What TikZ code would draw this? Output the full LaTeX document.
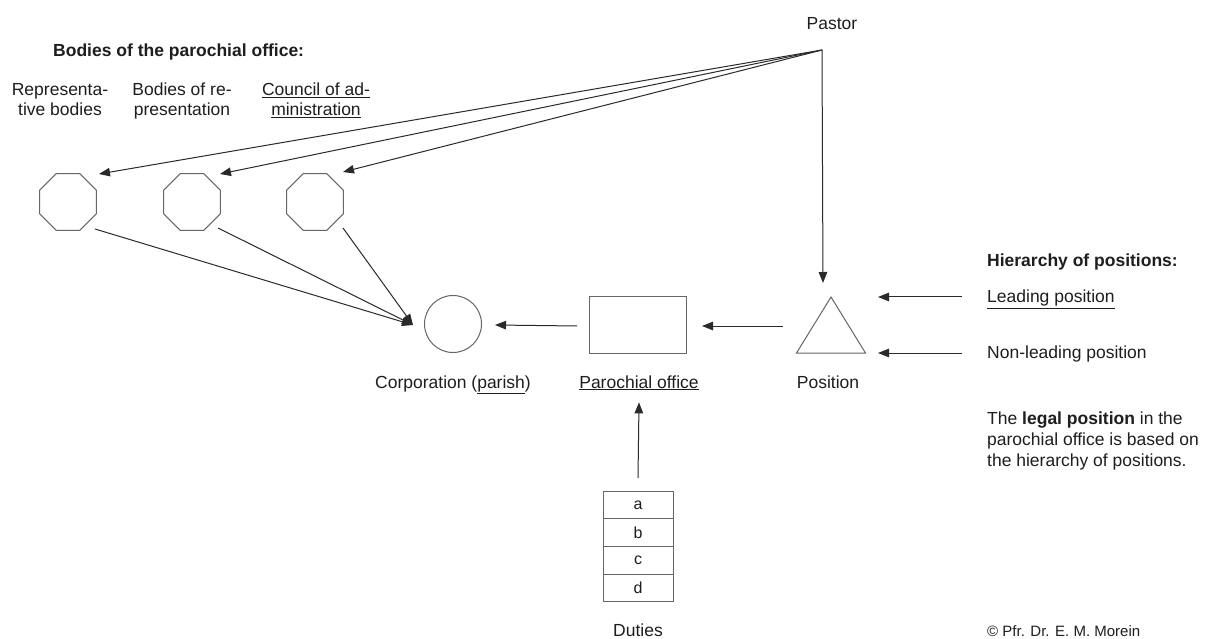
\documentclass[tikz,border=0pt]{standalone}
\usepackage{fontspec}
\setmainfont{Liberation Sans}
\usetikzlibrary{shapes.geometric,arrows.meta,calc}
\definecolor{ln}{HTML}{2a2a2a}
\definecolor{sh}{HTML}{666666}
\definecolor{tx}{HTML}{1e1e1e}
\begin{document}
\begin{tikzpicture}[x=1pt,y=-1pt,
  every node/.style={text=tx, font=\fontsize{17.5}{20}\selectfont, inner sep=0},
  oct/.style={draw=sh, line width=1pt, regular polygon, regular polygon sides=8, minimum size=61.5pt},
  shp/.style={draw=sh, line width=1pt},
  arr/.style={draw=ln, line width=1pt, -{Triangle[length=11pt,width=8.5pt]}},
  duty/.style={draw=sh, line width=1pt, minimum width=70pt, minimum height=27.75pt, outer sep=0, font=\fontsize{16}{19}\selectfont},
  hdr/.style={font=\fontsize{17.5}{20}\selectfont\bfseries}
]
\useasboundingbox (0,0) rectangle (1211,639);
\fill[white] (0,0) rectangle (1211,639);

% texts
\node[anchor=base] (pastor) at (832,30) {Pastor};
\coordinate (P) at (822,50);
\node[hdr, anchor=base west] (bodies) at (53,57) {Bodies of the parochial office:};
\node[anchor=north, align=center] (rep) at (60,83) {Representa-\\tive bodies};
\node[anchor=north, align=center] (bor) at (182,83) {Bodies of re-\\presentation};
\node[anchor=north, align=center] (coa) at (316,83) {\underline{Council of ad-}\\\underline{ministration}};

% octagons
\node[oct] (o1) at (68,202) {};
\node[oct] (o2) at (192,202) {};
\node[oct] (o3) at (315,202) {};

% main shapes
\node[circle, shp, minimum size=57pt] (corp) at (453,324) {};
\node[shp, minimum width=97pt, minimum height=56pt] (off) at (638,325) {};
\coordinate (pos) at (831,325);
\draw[shp, line join=miter] ($(pos)+(-34.5,28)$) -- ($(pos)+(0,-28)$) -- ($(pos)+(34.5,28)$) -- cycle;

\node[anchor=base] (corpl) at (453,388) {Corporation (\underline{parish})};
\node[anchor=base] (offl) at (639,388) {\underline{Parochial office}};
\node[anchor=base] (posl) at (828,388) {Position};

% hierarchy
\node[hdr, anchor=base west] (hier) at (987,267) {Hierarchy of positions:};
\node[anchor=base west] (lead) at (987,303) {\underline{Leading position}};
\node[anchor=base west] (nonlead) at (987,359) {Non-leading position};
\node[anchor=north west, align=left, font=\fontsize{17.5}{21}\selectfont] (legal) at (987,412)
  {The \textbf{legal position} in the\\parochial office is based on\\the hierarchy of positions.};

% duties
\node[duty] (da) at (638,504.9) {a};
\node[duty] (db) at (638,532.6) {b};
\node[duty] (dc) at (638,560.4) {c};
\node[duty] (dd) at (638,588.1) {d};
\node[anchor=base] (dutl) at (638,636) {Duties};

\node[anchor=base west, font=\fontsize{15}{18}\selectfont] (copy) at (987,636.5) {© Pfr. Dr. E. M. Morein};

% connectors from pastor
\draw[arr] (P) -- ($(o1)+(31,-28)$);
\draw[arr] (P) -- ($(o2)+(28,-28)$);
\draw[arr] (P) -- ($(o3)+(28,-30)$);
\draw[arr] (P) -- ($(pos)+(-8,-42)$);

% bodies to corporation
\coordinate (C) at ($(corp.west)+(-11,1)$);
\draw[arr] ($(o1)+(27,27)$) -- (C);
\draw[arr] ($(o2)+(26,26)$) -- (C);
\draw[arr] ($(o3)+(28,26)$) -- (C);

% chain
\draw[arr] ($(off.west)+(-12,1)$) -- ($(corp.east)+(13,1)$);
\draw[arr] ($(pos)+(-48,1)$) -- ($(off.east)+(15,1)$);
\draw[arr] ($(lead.base west)+(-25,-6)$) -- ($(pos)+(47,-28)$);
\draw[arr] ($(nonlead.base west)+(-25,-6)$) -- ($(pos)+(47,28)$);
\draw[arr] ($(da.north)+(0,-13)$) -- ($(offl.south)+(0,12)$);
\end{tikzpicture}
\end{document}
